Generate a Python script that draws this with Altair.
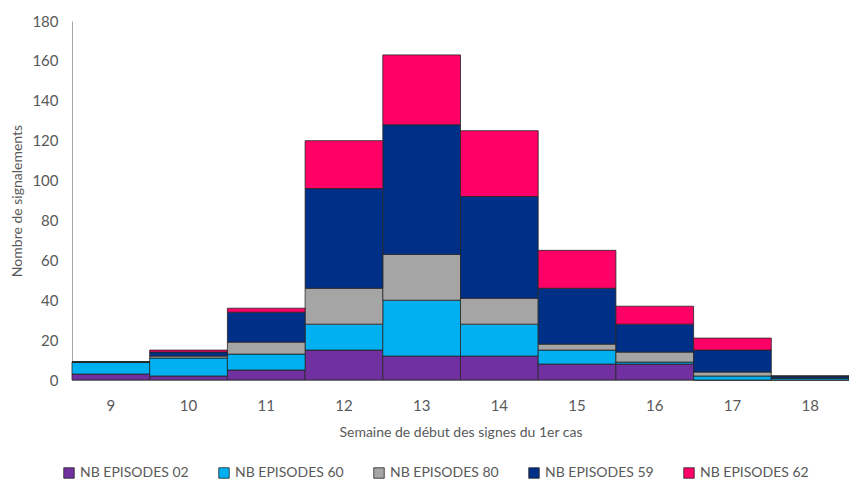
import altair as alt
import pandas as pd

weeks = ["9", "10", "11", "12", "13", "14", "15", "16", "17", "18"]
series_names = ["NB EPISODES 02", "NB EPISODES 60", "NB EPISODES 80", "NB EPISODES 59", "NB EPISODES 62"]
ep02 = [3, 2, 5, 15, 12, 12, 8, 8, 0, 0]
ep60 = [6, 9, 8, 13, 28, 16, 7, 1, 2, 1]
ep80 = [0, 1, 6, 18, 23, 13, 3, 5, 2, 0]
ep59 = [0, 2, 15, 50, 65, 51, 28, 14, 11, 1]
ep62 = [0, 1, 2, 24, 35, 33, 19, 9, 6, 0]
colors = ["#7030A0", "#00B0F0", "#A5A5A5", "#002F87", "#FF0066"]

rows = []
for si, (name, vals) in enumerate(zip(series_names, [ep02, ep60, ep80, ep59, ep62])):
    for w, v in zip(weeks, vals):
        rows.append({"week": w, "serie": name, "val": v, "ord": si})
df = pd.DataFrame(rows)

FONT = "Lato"

chart = alt.Chart(df).mark_bar(stroke="#262626", strokeWidth=0.8).encode(
    x=alt.X("week:N", sort=weeks,
            scale=alt.Scale(paddingInner=0, paddingOuter=0),
            axis=alt.Axis(title="Semaine de début des signes du 1er cas", labelAngle=0,
                          ticks=False, domainColor="#A6A6A6", labelPadding=18,
                          titlePadding=12, labelFontSize=15, titleFontSize=14,
                          labelColor="#595959", titleColor="#595959",
                          labelFont=FONT, titleFont=FONT, titleFontWeight="normal")),
    y=alt.Y("val:Q", stack="zero",
            scale=alt.Scale(domain=[0, 180], nice=False),
            axis=alt.Axis(title="Nombre de signalements", values=list(range(0, 181, 20)),
                          grid=False, ticks=False, domainColor="#A6A6A6", labelPadding=14,
                          titlePadding=7, labelFontSize=15, titleFontSize=14,
                          labelColor="#595959", titleColor="#595959",
                          labelFont=FONT, titleFont=FONT, titleFontWeight="normal")),
    color=alt.Color("serie:N", sort=series_names,
                    scale=alt.Scale(domain=series_names, range=colors),
                    legend=alt.Legend(title=None, orient="none", direction="horizontal",
                                      legendX=-10, legendY=445, symbolType="square",
                                      symbolSize=110, symbolStrokeColor="#262626",
                                      symbolStrokeWidth=0.8, labelFontSize=14,
                                      labelFont=FONT, labelColor="#595959",
                                      columnPadding=28, labelOffset=4)),
    order=alt.Order("ord:Q", sort="ascending"),
).properties(
    width=777, height=359,
    autosize=alt.AutoSizeParams(type="none"),
    padding={"left": 64, "top": 13, "right": 0, "bottom": 102},
).configure_view(stroke=None)

chart.save("out.html", embed_options={"renderer": "svg", "actions": False})
